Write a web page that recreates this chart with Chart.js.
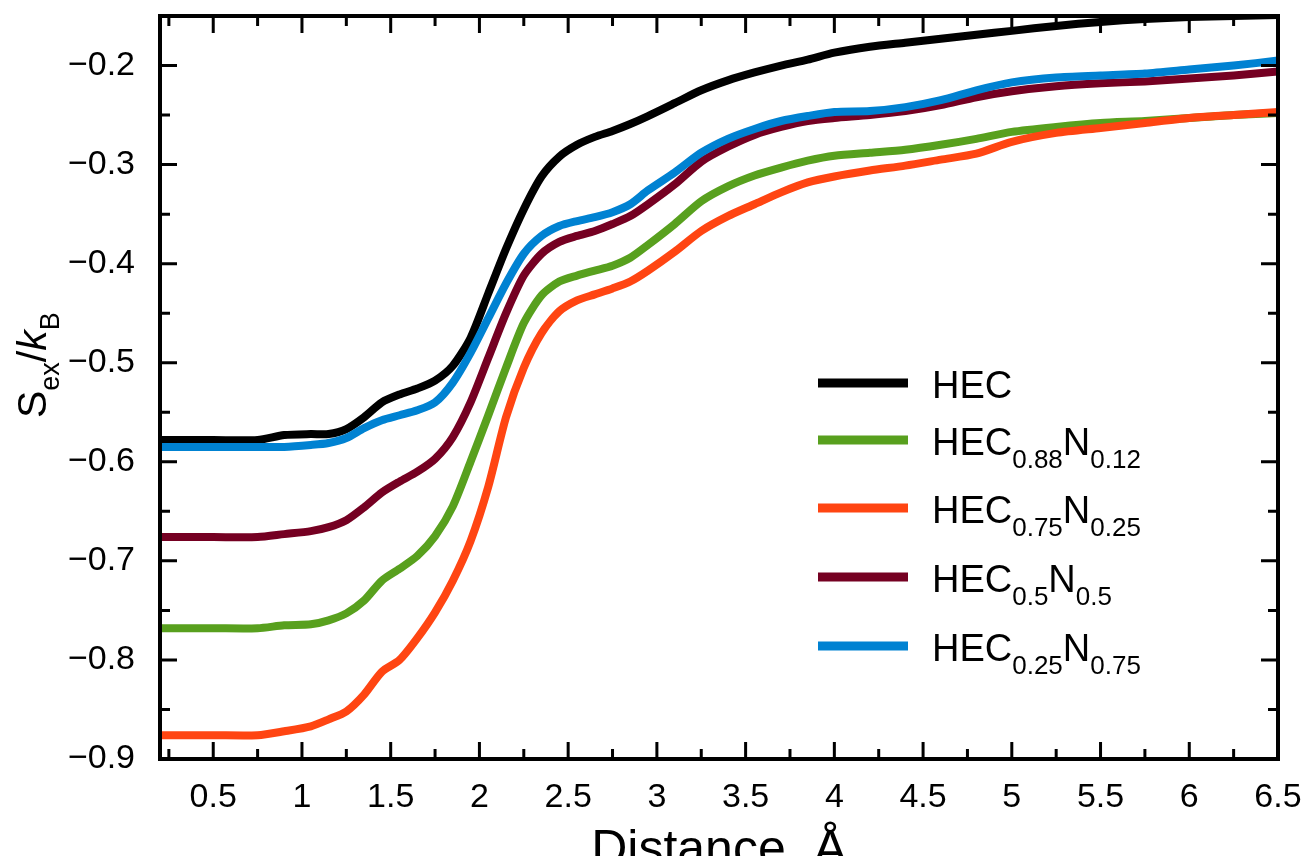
<!DOCTYPE html>
<html>
<head>
<meta charset="utf-8">
<script src="https://cdn.jsdelivr.net/npm/chart.js@4.4.1/dist/chart.umd.min.js"></script>
<style>
  html, body { margin: 0; padding: 0; background: #fff; }
  #wrap { width: 1305px; height: 856px; }
</style>
</head>
<body>
<div id="wrap"><canvas id="c" width="1305" height="856"></canvas></div>
<script>
// distance (Å) sample points shared by every curve
var distance = [0.2, 0.5, 0.75, 0.9, 1.05, 1.15, 1.25, 1.35, 1.45, 1.55, 1.65, 1.75, 1.85, 1.95,
  2.05, 2.15, 2.25, 2.35, 2.45, 2.55, 2.65, 2.75, 2.85, 2.95, 3.1, 3.25, 3.4, 3.55, 3.7, 3.85,
  4.0, 4.2, 4.4, 4.6, 4.8, 5.0, 5.25, 5.5, 5.75, 6.0, 6.25, 6.5];

// S_ex / k_B
var hec = [-0.578, -0.578, -0.578, -0.573, -0.572, -0.572, -0.567, -0.555, -0.540, -0.532, -0.526, -0.518, -0.503, -0.475,
  -0.430, -0.385, -0.345, -0.312, -0.292, -0.280, -0.272, -0.266, -0.259, -0.251, -0.238, -0.225, -0.215, -0.207, -0.200, -0.194,
  -0.187, -0.181, -0.177, -0.173, -0.169, -0.165, -0.160, -0.156, -0.153, -0.151, -0.150, -0.149];
var hecN012 = [-0.768, -0.768, -0.768, -0.765, -0.764, -0.760, -0.753, -0.740, -0.720, -0.708, -0.695, -0.675, -0.645, -0.600,
  -0.553, -0.505, -0.460, -0.432, -0.418, -0.412, -0.407, -0.402, -0.394, -0.381, -0.360, -0.337, -0.322, -0.311, -0.303, -0.296,
  -0.291, -0.288, -0.285, -0.280, -0.274, -0.267, -0.262, -0.258, -0.256, -0.253, -0.250, -0.248];
var hecN025 = [-0.876, -0.876, -0.876, -0.872, -0.867, -0.860, -0.852, -0.835, -0.812, -0.800, -0.778, -0.752, -0.720, -0.680,
  -0.625, -0.555, -0.505, -0.470, -0.448, -0.437, -0.431, -0.425, -0.418, -0.407, -0.388, -0.367, -0.352, -0.340, -0.328, -0.318,
  -0.312, -0.306, -0.301, -0.295, -0.289, -0.277, -0.268, -0.263, -0.258, -0.253, -0.250, -0.247];
var hecN05 = [-0.676, -0.676, -0.676, -0.673, -0.670, -0.666, -0.659, -0.646, -0.631, -0.620, -0.610, -0.597, -0.575, -0.540,
  -0.495, -0.450, -0.412, -0.390, -0.378, -0.372, -0.367, -0.360, -0.352, -0.340, -0.320, -0.297, -0.282, -0.270, -0.262, -0.256,
  -0.253, -0.250, -0.246, -0.240, -0.232, -0.226, -0.221, -0.218, -0.216, -0.213, -0.210, -0.206];
var hecN075 = [-0.585, -0.585, -0.585, -0.585, -0.583, -0.581, -0.576, -0.566, -0.558, -0.553, -0.548, -0.540, -0.520, -0.490,
  -0.455, -0.420, -0.390, -0.372, -0.362, -0.357, -0.353, -0.348, -0.340, -0.326, -0.308, -0.288, -0.274, -0.264, -0.256, -0.251,
  -0.247, -0.246, -0.242, -0.235, -0.225, -0.217, -0.212, -0.210, -0.208, -0.204, -0.200, -0.195];

var xTicks = [0.5, 1, 1.5, 2, 2.5, 3, 3.5, 4, 4.5, 5, 5.5, 6, 6.5];
var yTicks = [-0.9, -0.8, -0.7, -0.6, -0.5, -0.4, -0.3, -0.2];
var xMinor = [0.25, 0.75, 1.25, 1.75, 2.25, 2.75, 3.25, 3.75, 4.25, 4.75, 5.25, 5.75, 6.25];
var yMinor = [-0.85, -0.75, -0.65, -0.55, -0.45, -0.35, -0.25];

// legend entries: [main, subscript, main, subscript]
var legendLabels = [
  ["HEC"],
  ["HEC", "0.88", "N", "0.12"],
  ["HEC", "0.75", "N", "0.25"],
  ["HEC", "0.5", "N", "0.5"],
  ["HEC", "0.25", "N", "0.75"]
];
var colors = ["#000000", "#58a01e", "#ff4512", "#750022", "#0082d2"];
var seriesList = [hec, hecN012, hecN025, hecN05, hecN075];

var FONT = "'Liberation Sans', Arial, sans-serif";

function pts(ys) {
  return ys.map(function (y, i) { return { x: distance[i], y: y }; });
}

// draws text runs; each run is [text, "n" | "s" | "i"]
function drawRich(ctx, runs, x, y, size, subSize, subDy) {
  runs.forEach(function (r) {
    var sub = r[1] === "s";
    ctx.font = (r[1] === "i" ? "italic " : "") + (sub ? subSize : size) + "px " + FONT;
    ctx.fillText(r[0], x, sub ? y + subDy : y);
    x += ctx.measureText(r[0]).width;
  });
}

var decorPlugin = {
  id: "decor",
  afterDatasetsDraw: function (chart) {
    var ctx = chart.ctx, a = chart.chartArea;
    var xs = chart.scales.x, ys = chart.scales.y;
    ctx.save();
    ctx.strokeStyle = "#000";
    ctx.lineCap = "butt";
    // inward ticks on all four sides
    ctx.lineWidth = 3;
    function xt(v, len) {
      var p = xs.getPixelForValue(v);
      ctx.beginPath();
      ctx.moveTo(p, a.bottom); ctx.lineTo(p, a.bottom - len);
      ctx.moveTo(p, a.top); ctx.lineTo(p, a.top + len);
      ctx.stroke();
    }
    function yt(v, len) {
      var p = ys.getPixelForValue(v);
      ctx.beginPath();
      ctx.moveTo(a.left, p); ctx.lineTo(a.left + len, p);
      ctx.moveTo(a.right, p); ctx.lineTo(a.right - len, p);
      ctx.stroke();
    }
    xTicks.forEach(function (v) { xt(v, 17); });
    xMinor.forEach(function (v) { xt(v, 10); });
    yTicks.forEach(function (v) { yt(v, 17); });
    yMinor.forEach(function (v) { yt(v, 10); });
    // frame
    ctx.lineWidth = 4;
    ctx.strokeRect(a.left, a.top, a.right - a.left, a.bottom - a.top);

    // legend
    var rowY = [383, 440, 508, 577, 646];
    legendLabels.forEach(function (lab, i) {
      ctx.strokeStyle = colors[i];
      ctx.lineWidth = 9;
      ctx.beginPath();
      ctx.moveTo(818, rowY[i]); ctx.lineTo(908, rowY[i]);
      ctx.stroke();
      ctx.fillStyle = "#000";
      ctx.textAlign = "left";
      ctx.textBaseline = "alphabetic";
      var runs = lab.map(function (t, k) { return [t, k % 2 ? "s" : "n"]; });
      drawRich(ctx, runs, 932, rowY[i] + 15, 38, 26, 13);
    });

    // axis titles
    ctx.fillStyle = "#000";
    ctx.textBaseline = "alphabetic";
    ctx.font = "50px " + FONT;
    ctx.textAlign = "center";
    ctx.fillText("Distance, \u00c5", (a.left + a.right) / 2, 865);
    ctx.textAlign = "left";
    ctx.translate(46, 418);
    ctx.rotate(-Math.PI / 2);
    drawRich(ctx, [["S", "n"], ["ex", "s"], ["/", "n"], ["k", "i"], ["B", "s"]], 0, 0, 41, 27, 13);
    ctx.restore();
  }
};

function fmt(v) {
  var s = String(Math.round(Math.abs(v) * 100) / 100);
  return (v < 0 ? "\u2212" : "") + s;
}

new Chart(document.getElementById("c"), {
  type: "line",
  data: {
    datasets: seriesList.map(function (s, i) {
      return {
        label: legendLabels[i].join(""),
        data: pts(s),
        borderColor: colors[i],
        borderWidth: 8,
        pointRadius: 0,
        tension: 0.25,
        fill: false,
        order: seriesList.length - i
      };
    })
  },
  options: {
    responsive: false,
    animation: false,
    layout: { padding: { left: 0, top: 16, right: 27, bottom: 0 } },
    plugins: { legend: { display: false }, tooltip: { enabled: false } },
    scales: {
      x: {
        type: "linear",
        min: 0.2,
        max: 6.5,
        grid: { display: false },
        border: { display: false },
        afterBuildTicks: function (s) { s.ticks = xTicks.map(function (v) { return { value: v }; }); },
        afterFit: function (s) { s.height = 97; s.paddingLeft = 0; s.paddingRight = 0; },
        ticks: { color: "#000", font: { family: FONT, size: 34 }, padding: 10, maxRotation: 0, autoSkip: false,
          callback: function (v) { return fmt(v); } }
      },
      y: {
        type: "linear",
        min: -0.9,
        max: -0.15,
        grid: { display: false },
        border: { display: false },
        afterBuildTicks: function (s) { s.ticks = yTicks.map(function (v) { return { value: v }; }); },
        afterFit: function (s) { s.width = 160; s.paddingTop = 0; s.paddingBottom = 0; },
        ticks: { color: "#000", font: { family: FONT, size: 34 }, padding: 17, autoSkip: false,
          callback: function (v) { return fmt(v); } }
      }
    }
  },
  plugins: [decorPlugin]
});
</script>
</body>
</html>
